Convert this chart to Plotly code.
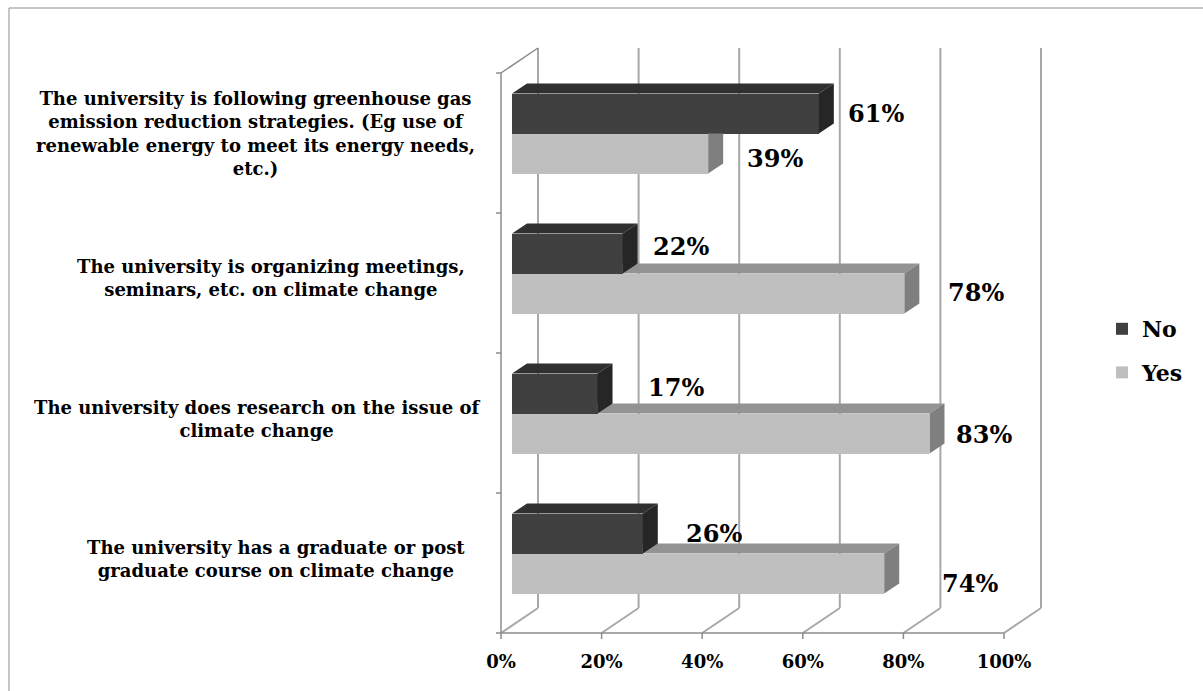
import plotly.graph_objects as go

# ---- data -------------------------------------------------------------
categories = [
    "The university is following greenhouse gas<br>emission reduction strategies. (Eg use of<br>"
    "renewable energy to meet its energy needs,<br>etc.)",
    "The university is organizing meetings,<br>seminars, etc. on climate change",
    "The university does research on the issue of<br>climate change",
    "The university has a graduate or post<br>graduate course on climate change",
]
no_pct = [61, 22, 17, 26]
yes_pct = [39, 78, 83, 74]
x_ticks = [0, 20, 40, 60, 80, 100]
x_tick_labels = ["0%", "20%", "40%", "60%", "80%", "100%"]

# ---- page geometry (pixels) ------------------------------------------
W, H = 1203, 691
PLOT_L, PLOT_R, PLOT_T, PLOT_B = 490, 1050, 42, 645
X0_PX = 501            # 0% on the front edge of the floor
PX_PER_PCT = 5.03
CAT_PX = 140           # height of one category slot on the front plane
FRONT_BOTTOM_PX = 633  # front edge of the floor


def px_x(d):
    return d / PX_PER_PCT


def px_y(d):
    return d / CAT_PX


x_range = [px_x(PLOT_L - X0_PX), px_x(PLOT_R - X0_PX)]
y_range = [px_y(FRONT_BOTTOM_PX - PLOT_B) - 0.5, px_y(FRONT_BOTTOM_PX - PLOT_T) - 0.5]

# 3-D depth of the walls and of the bars
WALL_DX, WALL_DY = px_x(37), px_y(25)
BAR_SHIFT_X, BAR_SHIFT_Y = px_x(11), px_y(9.5)
BAR_H = px_y(40)
BAR_DX, BAR_DY = px_x(15), px_y(10)

NO_FRONT, NO_TOP, NO_SIDE = "#404040", "#303030", "#262626"
YES_FRONT, YES_TOP, YES_SIDE = "#bfbfbf", "#939393", "#7f7f7f"
GRID = "#a8a8a8"
EDGE = "#8c8c8c"
FONT = "DejaVu Serif"

# label placement: (pixels right of the bar end, pixels down)
no_label_nudge = [(57, 0), (58, -7), (78, -6), (71, 0)]
yes_label_nudge = [(67, 5), (72, -1), (55, 1), (86, 10)]
# category text centres: (x pixel on page, pixels down from slot centre)
cat_label_pos = [(255, -10), (271, -5), (257, -4), (276, -4)]

n_cat = len(categories)
slot = [n_cat - 1 - i for i in range(n_cat)]     # first category at the top
pair_mid = [s + BAR_SHIFT_Y for s in slot]


# ---- polygon helpers for the bar faces ---------------------------------
def clip(poly, axis, bound, keep_greater):
    out = []
    for i in range(len(poly)):
        cur, prev = poly[i], poly[i - 1]
        cin = cur[axis] >= bound if keep_greater else cur[axis] <= bound
        pin = prev[axis] >= bound if keep_greater else prev[axis] <= bound
        if cin != pin:
            t = (bound - prev[axis]) / (cur[axis] - prev[axis])
            out.append((prev[0] + t * (cur[0] - prev[0]), prev[1] + t * (cur[1] - prev[1])))
        if cin:
            out.append(cur)
    return out


def area(poly):
    s = 0.0
    for i in range(len(poly)):
        x1, y1 = poly[i - 1]
        x2, y2 = poly[i]
        s += x1 * y2 - x2 * y1
    return abs(s) / 2


def visible_parts(poly, x_end, y_floor):
    """Parts of a face not hidden behind the bar front [.., x_end] x [y_floor, ..]."""
    parts = [clip(poly, 0, x_end, True),
             clip(clip(poly, 0, x_end, False), 1, y_floor, False)]
    return [p for p in parts if len(p) >= 3 and area(p) > 1e-6]


def to_xy(polys):
    xs, ys = [], []
    for p in polys:
        xs += [q[0] for q in p] + [p[0][0], None]
        ys += [q[1] for q in p] + [p[0][1], None]
    return xs, ys


yes_top, yes_side, no_top, no_side = [], [], [], []
for i in range(n_cat):
    m = pair_mid[i]
    n, v = no_pct[i], yes_pct[i]
    s0 = BAR_SHIFT_X
    no_end = s0 + n
    yes_end = s0 + v
    top_y = m + BAR_H
    no_top.append([(s0, top_y), (no_end, top_y), (no_end + BAR_DX, top_y + BAR_DY), (s0 + BAR_DX, top_y + BAR_DY)])
    no_side.append([(no_end, m), (no_end, top_y), (no_end + BAR_DX, top_y + BAR_DY), (no_end + BAR_DX, m + BAR_DY)])
    yt = [(s0, m), (yes_end, m), (yes_end + BAR_DX, m + BAR_DY), (s0 + BAR_DX, m + BAR_DY)]
    ys_ = [(yes_end, m - BAR_H), (yes_end, m), (yes_end + BAR_DX, m + BAR_DY), (yes_end + BAR_DX, m - BAR_H + BAR_DY)]
    yes_top += visible_parts(yt, no_end, m)
    yes_side += visible_parts(ys_, no_end, m)

fig = go.Figure()

# bar fronts
fig.add_trace(go.Bar(
    name="No", orientation="h", x=no_pct, y=[m + BAR_H / 2 for m in pair_mid],
    base=BAR_SHIFT_X, width=BAR_H, marker=dict(color=NO_FRONT, line=dict(width=0)),
    legendgroup="no", hoverinfo="skip"))
fig.add_trace(go.Bar(
    name="Yes", orientation="h", x=yes_pct, y=[m - BAR_H / 2 for m in pair_mid],
    base=BAR_SHIFT_X, width=BAR_H, marker=dict(color=YES_FRONT, line=dict(width=0)),
    legendgroup="yes", hoverinfo="skip"))

# bar tops and ends (Yes first so the No bars sit in front)
for polys, col in [(yes_top, YES_TOP), (yes_side, YES_SIDE), (no_top, NO_TOP), (no_side, NO_SIDE)]:
    xs, ys = to_xy(polys)
    fig.add_trace(go.Scatter(x=xs, y=ys, mode="lines", fill="toself", fillcolor=col,
                             line=dict(width=0, color=col), showlegend=False, hoverinfo="skip"))

# walls, floor and gridlines
shapes = []


def seg(x0, y0, x1, y1, color, width):
    shapes.append(dict(type="line", xref="x", yref="y", x0=x0, y0=y0, x1=x1, y1=y1,
                       line=dict(color=color, width=width), layer="below"))


floor = -0.5
top = n_cat - 0.5
for t in x_ticks:
    seg(t, floor, t + WALL_DX, floor + WALL_DY, GRID, 2)
    seg(t + WALL_DX, floor + WALL_DY, t + WALL_DX, top + WALL_DY, GRID, 2)
    seg(t, floor, t, floor - px_y(6), EDGE, 1.5)
seg(0, floor, x_ticks[-1], floor, EDGE, 1.5)
seg(0, floor, 0, top, EDGE, 1.5)
seg(0, top, WALL_DX, top + WALL_DY, EDGE, 1.5)
for k in range(n_cat + 1):
    seg(0, floor + k, -px_x(5), floor + k, EDGE, 1.5)

# outer frame of the chart area
shapes.append(dict(type="rect", xref="paper", yref="paper",
                   x0=(9 - PLOT_L) / (PLOT_R - PLOT_L), x1=(1300 - PLOT_L) / (PLOT_R - PLOT_L),
                   y0=(PLOT_B - 800) / (PLOT_B - PLOT_T), y1=(PLOT_B - 8) / (PLOT_B - PLOT_T),
                   line=dict(color="#8c8c8c", width=1), fillcolor="rgba(0,0,0,0)", layer="below"))

annotations = []
# value labels
for i in range(n_cat):
    m = pair_mid[i]
    for val, yc, (dx, dy) in [(no_pct[i], m + BAR_H / 2, no_label_nudge[i]),
                              (yes_pct[i], m - BAR_H / 2, yes_label_nudge[i])]:
        annotations.append(dict(x=BAR_SHIFT_X + val, y=yc, xref="x", yref="y",
                                text=f"{val}%", showarrow=False, xanchor="center", yanchor="middle",
                                xshift=dx, yshift=-dy,
                                font=dict(family=FONT, size=24, color="black", weight="bold")))
# category labels
for i, txt in enumerate(categories):
    cx, dy = cat_label_pos[i]
    annotations.append(dict(x=(cx - PLOT_L) / (PLOT_R - PLOT_L), y=slot[i], xref="paper", yref="y",
                            text=txt, showarrow=False, xanchor="center", yanchor="middle",
                            align="center", yshift=-dy,
                            font=dict(family=FONT, size=18, color="black", weight="bold")))

fig.update_layout(
    width=W, height=H, autosize=False,
    margin=dict(l=PLOT_L, r=W - PLOT_R, t=PLOT_T, b=H - PLOT_B, pad=0),
    paper_bgcolor="white", plot_bgcolor="white",
    barmode="overlay", bargap=0,
    shapes=shapes, annotations=annotations,
    xaxis=dict(range=x_range, tickvals=x_ticks, ticktext=x_tick_labels,
               showgrid=False, zeroline=False, showline=False, ticks="",
               tickfont=dict(family=FONT, size=18, color="black", weight="bold"),
               ticklabelstandoff=4, fixedrange=True),
    yaxis=dict(range=y_range, visible=False, fixedrange=True),
    legend=dict(x=(1102 - PLOT_L) / (PLOT_R - PLOT_L), y=(PLOT_B - 308) / (PLOT_B - PLOT_T),
                xanchor="left", yanchor="top", traceorder="grouped", tracegroupgap=12,
                font=dict(family=FONT, size=22, color="black", weight="bold"),
                bgcolor="rgba(0,0,0,0)", borderwidth=0),
    showlegend=True,
)

fig.write_html("out.html")
